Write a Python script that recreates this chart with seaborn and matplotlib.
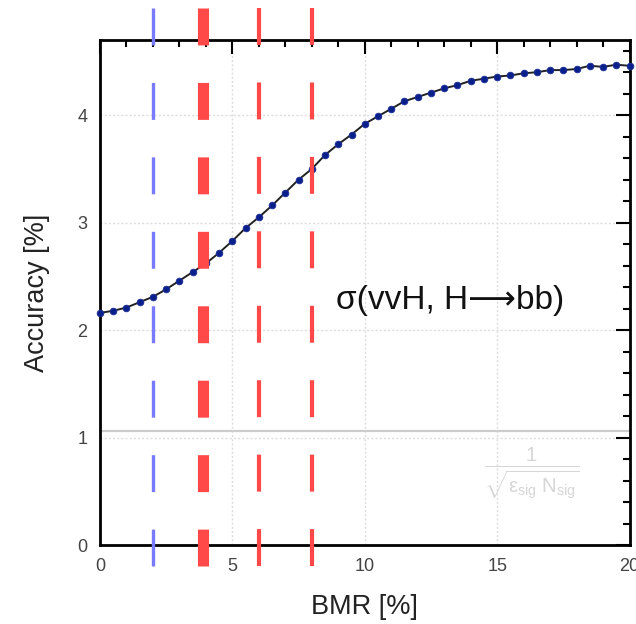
import matplotlib
matplotlib.use("Agg")
import matplotlib.pyplot as plt
from matplotlib.ticker import MultipleLocator
import pandas as pd
import seaborn as sns

# BMR scan and the resulting accuracy on sigma(vvH, H->bb)
bmr = [0.0, 0.5, 1.0, 1.5, 2.0, 2.5, 3.0, 3.5, 4.0, 4.5,
       5.0, 5.5, 6.0, 6.5, 7.0, 7.5, 8.0, 8.5, 9.0, 9.5,
       10.0, 10.5, 11.0, 11.5, 12.0, 12.5, 13.0, 13.5, 14.0, 14.5,
       15.0, 15.5, 16.0, 16.5, 17.0, 17.5, 18.0, 18.5, 19.0, 19.5, 20.0]
accuracy = [2.16, 2.18, 2.21, 2.26, 2.31, 2.38, 2.46, 2.54, 2.62, 2.72,
            2.83, 2.95, 3.05, 3.16, 3.28, 3.40, 3.50, 3.63, 3.73, 3.82,
            3.92, 3.99, 4.06, 4.13, 4.17, 4.21, 4.25, 4.28, 4.32, 4.34,
            4.36, 4.37, 4.39, 4.40, 4.42, 4.42, 4.43, 4.46, 4.45, 4.47, 4.46]

# Reference BMR values marked by vertical dashed lines
marker_bmr = [2.0, 3.9, 6.0, 8.0]
marker_colors = ["#7a7aff", "#ff4848", "#ff4848", "#ff4848"]
marker_widths = [2.4, 8.0, 3.0, 3.0]

# Statistical limit 1/sqrt(eps_sig * N_sig)
stat_limit = 1.065

x_ticks = [0, 5, 10, 15, 20]
y_ticks = [0, 1, 2, 3, 4]

df = pd.DataFrame({"BMR": bmr, "Accuracy": accuracy})

sns.set_style("white")
plt.rcParams["font.family"] = ["Liberation Sans", "DejaVu Sans"]
plt.rcParams["mathtext.fontset"] = "custom"
plt.rcParams["mathtext.rm"] = "Liberation Sans"
plt.rcParams["mathtext.it"] = "Liberation Sans"
plt.rcParams["mathtext.sf"] = "Liberation Sans"
plt.rcParams["lines.scale_dashes"] = False

fig = plt.figure(figsize=(6.36, 6.24), dpi=100)
ax = fig.add_axes([0.1572, 0.1266, 0.8326, 0.8093])

ax.set_xlim(0, 20)
ax.set_ylim(0, 4.7)

# light dotted grid at the major ticks
for v in x_ticks[1:-1]:
    ax.axvline(v, color="#dddddd", lw=1.0, ls=(0, (1.5, 1.5)), zorder=0)
for v in y_ticks[1:]:
    ax.axhline(v, color="#dddddd", lw=1.0, ls=(0, (1.5, 1.5)), zorder=0)

ax.axhline(stat_limit, color="#cccccc", lw=1.6, zorder=1)

sns.lineplot(data=df, x="BMR", y="Accuracy", ax=ax, color="#222222",
             lw=1.4, marker="o", markersize=4.8, markerfacecolor="#0b1f8a",
             markeredgecolor="#1a2e9a", markeredgewidth=0.6, zorder=3,
             clip_on=False)

# dashed markers run past the frame at both ends
for xv, c, w in zip(marker_bmr, marker_colors, marker_widths):
    ax.plot([xv, xv], [5.0, -0.2], color=c, lw=w, solid_capstyle="butt",
            dash_capstyle="butt", ls=(0, (26.6, 27.0)), zorder=4,
            clip_on=False)

ax.text(8.9, 2.28, "σ(vvH, H⟶bb)", fontsize=24, color="#111111",
        ha="left", va="center")
ax.text(16.3, 0.66,
        r"$\frac{1}{\sqrt{\epsilon_{\mathrm{sig}}\ \mathrm{N}_{\mathrm{sig}}}}$",
        fontsize=21, color="#d6d6d6", ha="center", va="center")

ax.set_xticks(x_ticks)
ax.set_yticks(y_ticks)
ax.xaxis.set_minor_locator(MultipleLocator(1))
ax.yaxis.set_minor_locator(MultipleLocator(0.2))
ax.tick_params(which="both", direction="in", top=True, right=True,
               width=1.5, color="black", labelsize=13, labelcolor="#444444")
ax.tick_params(which="major", length=10, pad=9)
ax.tick_params(which="minor", length=5)
for s in ax.spines.values():
    s.set_linewidth(2.0)
    s.set_color("black")

ax.set_xlabel("BMR [%]", fontsize=19.5, color="#222222", labelpad=14)
ax.set_ylabel("Accuracy [%]", fontsize=19.5, color="#222222", labelpad=20)

fig.savefig("out.png", dpi=100, facecolor="white")
